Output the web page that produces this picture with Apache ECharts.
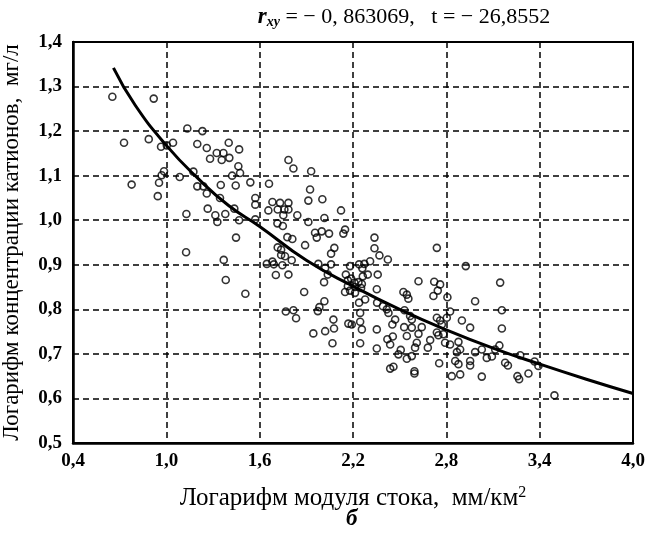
<!DOCTYPE html>
<html>
<head>
<meta charset="utf-8">
<script src="https://cdn.jsdelivr.net/npm/echarts@6/dist/echarts.min.js"></script>
<style>html,body{margin:0;padding:0;background:#fff}#c{width:647px;height:534px}</style>
</head>
<body>
<div id="c"></div>
<script>
var scatterX = [0.653,0.919,1.135,1.232,0.728,0.887,0.966,1.043,1.199,1.260,1.401,1.468,1.324,1.367,1.281,1.356,1.405,1.463,0.985,0.970,1.086,1.423,1.474,0.777,0.953,1.199,1.238,1.350,1.446,1.540,1.003,1.174,1.785,1.817,1.931,1.660,1.924,0.945,1.260,1.345,1.572,1.572,1.266,1.129,1.315,1.328,1.379,1.437,1.468,1.572,1.448,1.127,1.369,1.382,1.508,1.913,2.003,1.682,1.731,1.785,1.656,1.716,1.759,1.785,1.752,1.842,2.123,1.913,2.016,1.714,1.749,2.149,2.138,1.956,1.999,2.046,1.967,1.778,1.810,2.338,1.892,1.716,1.738,2.080,2.338,2.059,1.738,1.763,2.370,2.424,1.806,2.739,1.646,1.682,1.691,1.746,1.977,2.059,2.021,2.181,2.239,2.273,2.310,2.260,2.038,2.154,2.263,2.295,2.359,1.704,1.785,2.014,2.167,2.188,2.209,2.235,2.257,2.621,2.722,2.760,2.167,2.213,2.181,2.252,2.353,1.886,2.149,2.524,2.546,2.556,2.717,2.745,2.213,2.278,2.239,2.016,1.984,1.974,2.355,2.392,2.417,2.428,1.768,1.817,1.834,2.246,2.531,2.567,2.578,2.471,2.074,2.739,2.760,2.771,2.453,2.170,2.192,2.246,2.257,2.021,2.078,1.945,2.353,2.529,2.578,2.642,2.621,2.925,3.146,2.807,2.985,3.157,2.824,2.803,2.900,2.953,3.157,2.068,2.246,2.353,2.421,2.456,2.439,2.546,2.610,2.599,2.696,2.681,2.739,2.749,2.781,2.507,2.492,2.546,2.578,2.439,2.460,2.595,2.595,2.754,2.792,2.824,2.878,2.889,2.868,2.857,2.878,2.835,2.889,2.953,2.953,2.985,3.028,3.060,3.093,3.114,3.141,3.028,3.178,3.196,3.257,3.268,3.275,3.328,3.367,3.392,3.495];
var scatterY = [1.277,1.273,1.206,1.200,1.174,1.182,1.165,1.174,1.171,1.162,1.174,1.159,1.151,1.151,1.138,1.135,1.140,1.121,1.110,1.101,1.097,1.100,1.106,1.080,1.084,1.076,1.076,1.079,1.078,1.085,1.168,1.109,1.135,1.116,1.110,1.082,1.069,1.054,1.060,1.050,1.050,1.035,1.026,1.014,1.011,0.996,1.014,1.026,1.000,1.002,0.961,0.928,0.911,0.866,0.835,1.044,1.047,1.041,1.039,1.039,1.022,1.024,1.024,1.024,1.011,1.011,1.022,0.996,1.005,0.993,0.987,0.979,0.970,0.972,0.975,0.970,0.961,0.962,0.958,0.961,0.944,0.939,0.934,0.938,0.937,0.925,0.922,0.919,0.921,0.912,0.910,0.938,0.902,0.907,0.901,0.899,0.902,0.901,0.893,0.897,0.901,0.902,0.908,0.892,0.878,0.878,0.874,0.878,0.878,0.877,0.878,0.861,0.865,0.869,0.860,0.861,0.857,0.863,0.862,0.856,0.852,0.850,0.842,0.848,0.845,0.839,0.839,0.839,0.833,0.824,0.830,0.842,0.837,0.822,0.815,0.818,0.805,0.796,0.815,0.807,0.800,0.792,0.795,0.798,0.780,0.792,0.798,0.785,0.777,0.777,0.777,0.781,0.775,0.766,0.766,0.768,0.766,0.772,0.755,0.751,0.757,0.746,0.755,0.760,0.759,0.760,0.745,0.897,0.860,0.827,0.818,0.798,0.795,0.781,0.775,0.759,0.757,0.724,0.724,0.712,0.733,0.739,0.721,0.740,0.725,0.714,0.731,0.714,0.748,0.742,0.744,0.709,0.699,0.689,0.695,0.667,0.671,0.661,0.656,0.679,0.725,0.721,0.727,0.710,0.704,0.684,0.677,0.650,0.654,0.684,0.674,0.704,0.710,0.691,0.694,0.710,0.719,0.649,0.680,0.674,0.650,0.643,0.697,0.656,0.683,0.673,0.607];
// Fitted trend curve
var curveX = [0.66,0.8,1.0,1.2,1.4,1.6,1.9,2.2,2.5,2.8,3.1,3.4,3.7,4.0];
var curveY = [1.342,1.258,1.168,1.095,1.033,0.986,0.910,0.852,0.800,0.754,0.713,0.677,0.643,0.611];
// Texts
var titleRest = " = − 0, 863069,   t = − 26,8552";
var xAxisTitle = "Логарифм модуля стока,  мм/км";
var yAxisTitle = "Логарифм концентрации катионов,  мг/л";
var panelLetter = "б";

var chart = echarts.init(document.getElementById('c'), null, {renderer:'canvas'});
var scatterData = scatterX.map(function(x,i){return [x, scatterY[i]];});
var curveData = curveX.map(function(x,i){return [x, curveY[i]];});
var FF = '"Liberation Serif","Times New Roman",serif';
function fmt(v){return (Math.round(v*10)/10).toFixed(1).replace('.',',');}

chart.setOption({
  animation:false,
  backgroundColor:'#fff',
  grid:{left:73,right:14,top:42,bottom:91,containLabel:false,outerBoundsMode:'none',show:true,borderColor:'#000',borderWidth:2,backgroundColor:'transparent'},
  title:{
    left:399, top:1, textAlign:'center',
    text:'{r|r}{s|xy}{n|'+titleRest+'}',
    textStyle:{
      fontFamily:FF,fontWeight:'normal',
      rich:{
        r:{fontFamily:FF,fontSize:23,fontStyle:'italic',fontWeight:'bold',color:'#000'},
        s:{fontFamily:FF,fontSize:14,fontStyle:'italic',fontWeight:'bold',color:'#000',verticalAlign:'bottom',padding:[9,0,0,0]},
        n:{fontFamily:FF,fontSize:22,fontWeight:'normal',color:'#000'}
      }
    }
  },
  xAxis:{
    type:'value',min:0.4,max:4.0,interval:0.6,
    name:'{a|'+xAxisTitle+'}{b|2}',
    nameLocation:'middle',nameGap:42,
    nameTextStyle:{rich:{
      a:{fontFamily:FF,fontSize:25,color:'#000'},
      b:{fontFamily:FF,fontSize:16,color:'#000',verticalAlign:'top',padding:[0,0,10,0]}
    }},
    axisLine:{show:true,lineStyle:{color:'#000',width:2.5}},
    axisTick:{show:false},
    axisLabel:{formatter:fmt,fontFamily:FF,fontSize:19,fontWeight:'bold',color:'#000',margin:9},
    splitLine:{show:true,lineStyle:{color:'#000',type:[6,4],width:1.5}}
  },
  yAxis:{
    type:'value',min:0.5,max:1.4,interval:0.1,
    name:yAxisTitle,nameLocation:'middle',nameGap:50,
    nameTextStyle:{fontFamily:FF,fontSize:23,color:'#000'},
    axisLine:{show:true,lineStyle:{color:'#000',width:2.5}},
    axisTick:{show:false},
    axisLabel:{formatter:fmt,fontFamily:FF,fontSize:19,fontWeight:'bold',color:'#000',margin:11},
    splitLine:{show:true,lineStyle:{color:'#000',type:[6,4],width:1.5}}
  },
  graphic:[{
    type:'text',left:346,top:508,
    style:{text:panelLetter,fontFamily:FF,fontSize:23,fontStyle:'italic',fontWeight:'bold',fill:'#000'}
  }],
  series:[
    {type:'scatter',data:scatterData,symbol:'circle',symbolSize:7,
     itemStyle:{color:'rgba(255,255,255,0)',borderColor:'#000',borderWidth:1.6},z:3},
    {type:'line',data:curveData,smooth:true,symbol:'none',
     lineStyle:{color:'#000',width:3},z:4}
  ]
});
</script>
</body>
</html>
